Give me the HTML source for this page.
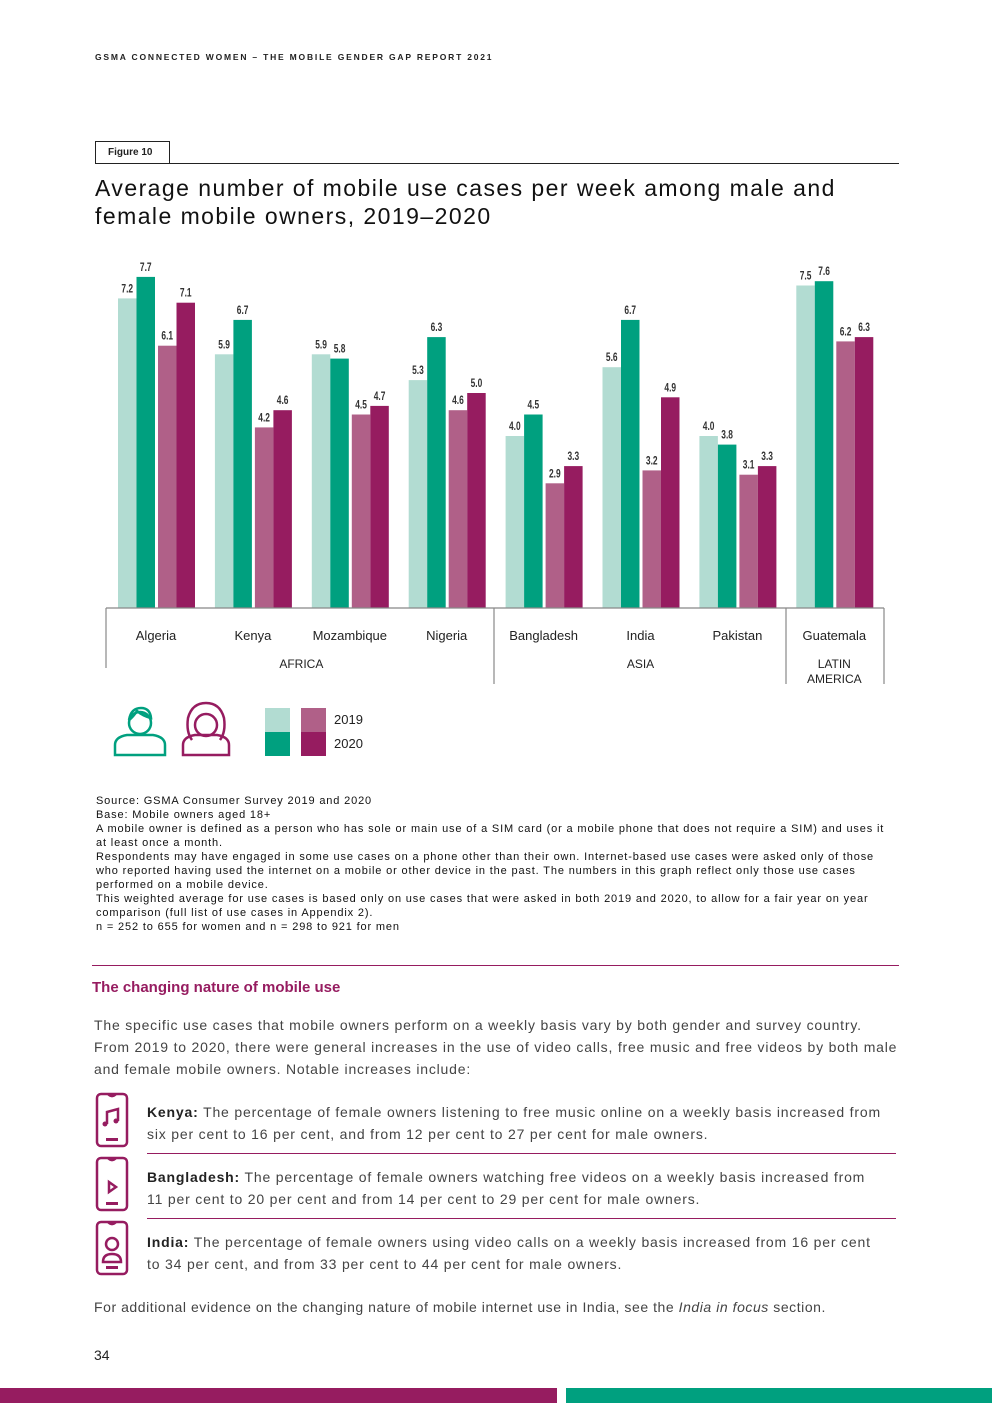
<!DOCTYPE html>
<html><head><meta charset="utf-8"><style>
body{margin:0;width:992px;height:1403px;position:relative;background:#fff;font-family:"Liberation Sans",sans-serif;color:#222;overflow:hidden}
.a{position:absolute}
.src{font-size:11px;line-height:14px;color:#111;letter-spacing:0.85px;white-space:nowrap}
.p{font-size:14px;line-height:22px;color:#444;letter-spacing:0.8px;white-space:nowrap}
.it{font-size:14px;line-height:22px;color:#444;letter-spacing:0.82px;white-space:nowrap}
.it b{color:#222}
</style></head><body>
<div class="a" style="left:95px;top:52px;font-size:8.5px;font-weight:bold;letter-spacing:1.8px">GSMA CONNECTED WOMEN – THE MOBILE GENDER GAP REPORT 2021</div>
<div class="a" style="left:95px;top:141px;width:73px;height:21px;border:1px solid #222;font-size:10px;font-weight:bold;line-height:21px;text-indent:12px">Figure 10</div>
<div class="a" style="left:95px;top:163px;width:804px;height:1px;background:#222"></div>
<div class="a" style="left:95px;top:174px;font-size:23px;line-height:28px;color:#111;letter-spacing:1.45px;white-space:nowrap">Average number of mobile use cases per week among male and<br>female mobile owners, 2019–2020</div>
<svg class="a" style="left:0;top:0" width="992" height="700" id="chart"></svg>
<svg class="a" style="left:110px;top:700px" width="130" height="60">
<g fill="none" stroke="#00a07f" stroke-width="2.5"><circle cx="30" cy="23" r="11"/><path d="M19 20 q2-12 12-12 q9 0 10 10 q-8-2-14-7 q-4 6-8 9"/><path d="M5 55 v-10 q0-8 12-10 h26 q12 2 12 10 v10 z"/></g>
<g fill="none" stroke="#961c60" stroke-width="2.5"><circle cx="96" cy="25" r="11"/><path d="M82 40 q-6-8-4-22 q4-15 18-15 q14 0 18 15 q2 14-4 22"/><path d="M73 55 v-10 q0-8 12-10 h22 q12 2 12 10 v10 z"/></g>
</svg>
<div class="a" style="left:265px;top:708px">
<div class="a" style="left:0;top:0;width:25px;height:24px;background:#b2dcd2"></div>
<div class="a" style="left:0;top:24px;width:25px;height:24px;background:#00a07f"></div>
<div class="a" style="left:36px;top:0;width:25px;height:24px;background:#b06088"></div>
<div class="a" style="left:36px;top:24px;width:25px;height:24px;background:#961c60"></div>
<div class="a" style="left:69px;top:4px;font-size:13px">2019</div>
<div class="a" style="left:69px;top:28px;font-size:13px">2020</div>
</div>
<div class="a src" style="left:96px;top:794px">Source: GSMA Consumer Survey 2019 and 2020<br>Base: Mobile owners aged 18+<br>A mobile owner is defined as a person who has sole or main use of a SIM card (or a mobile phone that does not require a SIM) and uses it<br>at least once a month.<br>Respondents may have engaged in some use cases on a phone other than their own. Internet-based use cases were asked only of those<br>who reported having used the internet on a mobile or other device in the past. The numbers in this graph reflect only those use cases<br>performed on a mobile device.<br>This weighted average for use cases is based only on use cases that were asked in both 2019 and 2020, to allow for a fair year on year<br>comparison (full list of use cases in Appendix 2).<br>n = 252 to 655 for women and n = 298 to 921 for men</div>
<div class="a" style="left:92px;top:965px;width:807px;height:1px;background:#961c60"></div>
<div class="a" style="left:92px;top:979px;font-size:15px;font-weight:bold;color:#961c60">The changing nature of mobile use</div>
<div class="a p" style="left:94px;top:1014px">The specific use cases that mobile owners perform on a weekly basis vary by both gender and survey country.<br>From 2019 to 2020, there were general increases in the use of video calls, free music and free videos by both male<br>and female mobile owners. Notable increases include:</div>
<svg class="a" style="left:94px;top:1092px" width="36" height="186">
<g fill="none" stroke="#961c60" stroke-width="2.5"><rect x="3" y="2" width="30" height="52" rx="4"/><rect x="3" y="66" width="30" height="52" rx="4"/><rect x="3" y="130" width="30" height="52" rx="4"/><path d="M14 2 q4 4 8 0 M14 66 q4 4 8 0 M14 130 q4 4 8 0"/><path d="M13 32 v-12 l11 -3 v12"/><path d="M15 90 v10 l7 -5 z"/><circle cx="18" cy="152" r="6"/><path d="M9 170 q0-8 9-8 q9 0 9 8 z"/></g>
<g fill="#961c60"><circle cx="11" cy="32" r="2.5"/><circle cx="22" cy="29" r="2.5"/><rect x="12" y="46" width="12" height="3"/><rect x="12" y="110" width="12" height="3"/><rect x="12" y="174" width="12" height="3"/></g>
</svg>
<div class="a it" style="left:147px;top:1101px"><b>Kenya:</b> The percentage of female owners listening to free music online on a weekly basis increased from<br>six per cent to 16 per cent, and from 12 per cent to 27 per cent for male owners.</div>
<div class="a" style="left:147px;top:1153px;width:749px;height:1px;background:#961c60"></div>
<div class="a it" style="left:147px;top:1166px"><b>Bangladesh:</b> The percentage of female owners watching free videos on a weekly basis increased from<br>11 per cent to 20 per cent and from 14 per cent to 29 per cent for male owners.</div>
<div class="a" style="left:147px;top:1218px;width:749px;height:1px;background:#961c60"></div>
<div class="a it" style="left:147px;top:1231px"><b>India:</b> The percentage of female owners using video calls on a weekly basis increased from 16 per cent<br>to 34 per cent, and from 33 per cent to 44 per cent for male owners.</div>
<div class="a p" style="left:94px;top:1296px;letter-spacing:0.55px">For additional evidence on the changing nature of mobile internet use in India, see the <i>India in focus</i> section.</div>
<div class="a" style="left:94px;top:1347px;font-size:14px">34</div>
<div class="a" style="left:0;top:1388px;width:557px;height:15px;background:#961c60"></div>
<div class="a" style="left:566px;top:1388px;width:426px;height:15px;background:#00a07f"></div>
<script>
const countries=["Algeria","Kenya","Mozambique","Nigeria","Bangladesh","India","Pakistan","Guatemala"];
const male2019=[7.2,5.9,5.9,5.3,4.0,5.6,4.0,7.5];
const male2020=[7.7,6.7,5.8,6.3,4.5,6.7,3.8,7.6];
const female2019=[6.1,4.2,4.5,4.6,2.9,3.2,3.1,6.2];
const female2020=[7.1,4.6,4.7,5.0,3.3,4.9,3.3,6.3];
const regions=["AFRICA","ASIA","LATIN|AMERICA"];
const regionSpans=[[0,3],[4,6],[7,7]];
const NS="http://www.w3.org/2000/svg";
const svg=document.getElementById('chart');
const base=608, k=43, x0=118, step=96.9, bw=18.5;
const y=v=>base-v*k;
const gx=i=>x0+i*step;
function mk(t,a){const e=document.createElementNS(NS,t);for(const n in a)e.setAttribute(n,a[n]);svg.appendChild(e);return e;}
const series=[[male2019,0,"#b2dcd2","male-2019"],[male2020,bw,"#00a07f","male-2020"],[female2019,40,"#b06088","female-2019"],[female2020,40+bw,"#961c60","female-2020"]];
countries.forEach((c,i)=>{
 series.forEach(([arr,off,col,nm])=>{
  const r=mk('rect',{x:gx(i)+off,y:y(arr[i]),width:bw,height:arr[i]*k,fill:col});
  
  
  const cx=gx(i)+off+bw/2;
  const t=mk('text',{x:cx,y:y(arr[i])-6,'text-anchor':'middle','font-size':'12','font-weight':'bold','font-family':'Liberation Sans Narrow, Liberation Sans, sans-serif','fill':'#333',transform:`translate(${cx} 0) scale(0.7 1) translate(${-cx} 0)`});
  t.textContent=arr[i].toFixed(1);
  
  
 });
 const l=mk('text',{x:gx(i)+38,y:640,'text-anchor':'middle','font-size':'13',fill:'#222'});
 l.textContent=c;
 
 
});
mk('line',{x1:106,x2:884,y1:608,y2:608,stroke:'#888','stroke-width':1.2});
[[106,668],[494,684],[786,684],[884,684]].forEach(([x,b])=>mk('line',{x1:x,x2:x,y1:608,y2:b,stroke:'#888','stroke-width':1.2}));
regions.forEach((r,j)=>{
 const [s,e]=regionSpans[j];
 const cx=(gx(s)+gx(e))/2+38;
 r.split('|').forEach((ln,q)=>{
  const t=mk('text',{x:cx,y:668+q*15,'text-anchor':'middle','font-size':'12',fill:'#222'});
  t.textContent=ln;
  
  
 });
});
</script>
</body></html>
